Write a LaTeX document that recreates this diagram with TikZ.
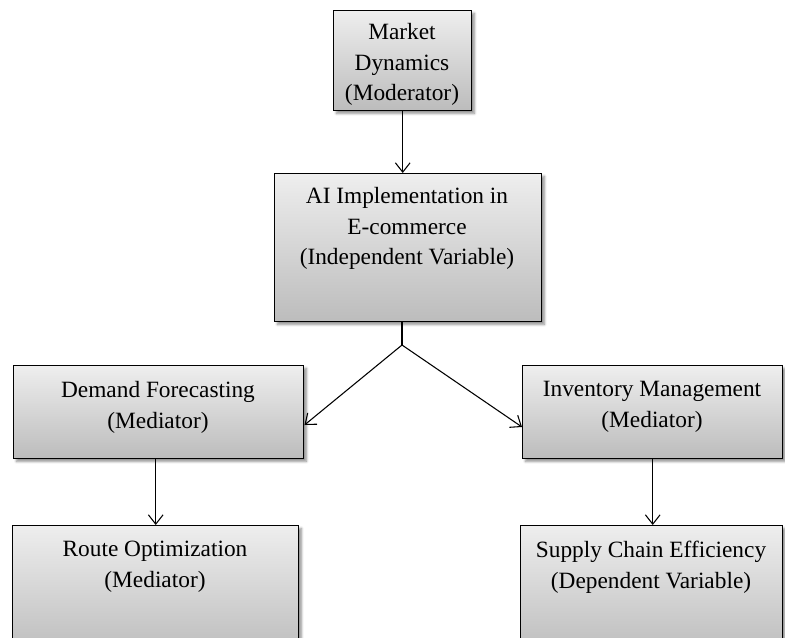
\documentclass[tikz,border=0pt]{standalone}
\usepackage{fontspec}
\setmainfont{Liberation Serif}
\usetikzlibrary{arrows.meta,shadows.blur}
\definecolor{topg}{RGB}{238,238,238}
\definecolor{botg}{RGB}{188,188,188}
\tikzset{
  box/.style={draw=black, line width=1.1pt, top color=topg, bottom color=botg,
    anchor=north west, inner sep=0pt,
    blur shadow={shadow xshift=2pt, shadow yshift=-2pt, shadow blur steps=6, shadow opacity=45}},
  txt/.style={anchor=north, align=center, inner sep=0pt, text=black,
    font=\fontsize{17.5}{23}\selectfont},
  conn/.style={line width=0.8pt, draw=black},
  arr/.style={conn, -{Straight Barb[length=7pt,width=11pt,line width=0.8pt]}}
}
\begin{document}
\begin{tikzpicture}[x=0.75pt,y=-0.75pt]
\useasboundingbox (0,0) rectangle (785,637);
\clip (0,0) rectangle (785,637);
% boxes
\node[box, minimum width=138*0.75pt, minimum height=100*0.75pt] (mk) at (333,10) {};
\node[box, minimum width=267*0.75pt, minimum height=148*0.75pt] (ai) at (274,173) {};
\node[box, minimum width=290*0.75pt, minimum height=93*0.75pt] (dm) at (13,365) {};
\node[box, minimum width=260*0.75pt, minimum height=93*0.75pt] (iv) at (522,365) {};
\node[box, minimum width=286*0.75pt, minimum height=130*0.75pt] (ro) at (12,525) {};
\node[box, minimum width=262*0.75pt, minimum height=130*0.75pt] (sc) at (520,525) {};
% texts
\node[txt] (mkt) at (402,23) {Market\\Dynamics\\(Moderator)};
\node[txt] (ait) at (407,187) {AI Implementation in\\E-commerce\\(Independent Variable)};
\node[txt] (dmt) at (158,381) {Demand Forecasting\\(Mediator)};
\node[txt] (ivt) at (652,381) {Inventory Management\\(Mediator)};
\node[txt] (rot) at (155,541) {Route Optimization\\(Mediator)};
\node[txt] (sct) at (651,541) {Supply Chain Efficiency\\(Dependent Variable)};
% connectors
\coordinate (br) at (402,345);
\draw[arr] (mk.south) -- (ai.north -| mk.south);
\draw[conn] (br |- ai.south) -- (br);
\draw[arr] (br) -- (dm.east |- 0,425);
\draw[arr] (br) -- (iv.west |- 0,427);
\draw[arr] (ro.north |- dm.south) -- (ro.north);
\draw[arr] (iv.south) -- (sc.north -| iv.south);
\end{tikzpicture}
\end{document}
